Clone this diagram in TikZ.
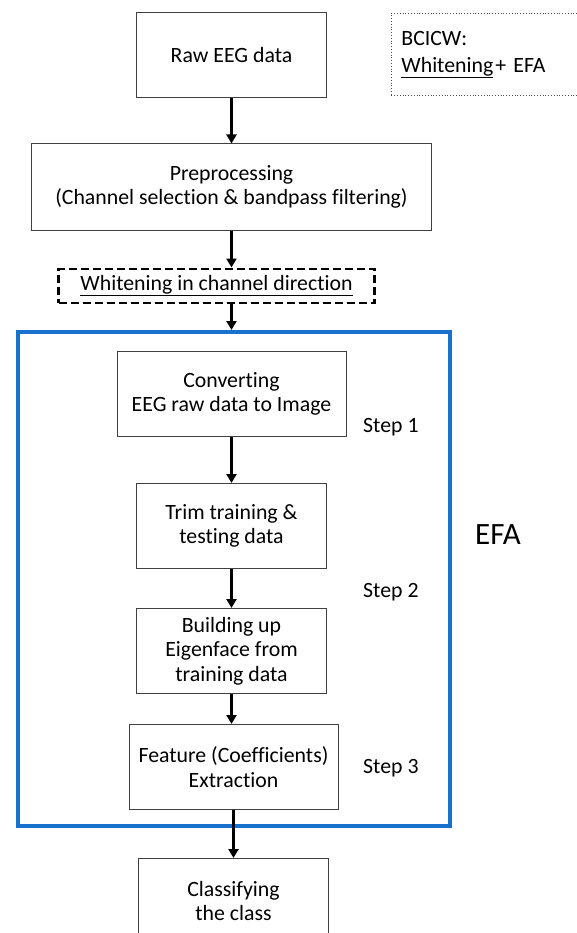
\documentclass[tikz,border=0pt]{standalone}
\usepackage{fontspec}
\setmainfont{Carlito}[Ligatures=NoCommon]
\usepackage{tikz}
\usetikzlibrary{positioning, arrows.meta}
\definecolor{efablue}{RGB}{24,113,204}

\begin{document}
\begin{tikzpicture}[x=1pt, y=-1pt,
	font=\fontsize{21.8}{24.5}\selectfont,
	box/.style={draw=black!75, line width=1pt, align=center, minimum width=190pt, minimum height=85pt, inner sep=0pt},
	flow/.style={line width=2.4pt, -{Triangle[length=9pt, width=10pt]}},
	stepnote/.style={anchor=west, inner sep=0pt}]
	\useasboundingbox (0,0) rectangle (577,933);
	
	\node[box] (raw) at (231.5,55.5) {Raw EEG data};
	\node[box, below=45pt of raw, minimum width=400pt, minimum height=86pt] (pre) {Preprocessing\\(Channel selection \& bandpass filtering)};
	\node[box, below=37pt of pre, xshift=-15pt, minimum width=316pt, minimum height=34pt, draw=black, line width=2.2pt, dash pattern=on 8pt off 4pt] (white) {\underline{Whitening in channel direction}};
	\node[draw=efablue, line width=4pt, minimum width=432pt, minimum height=494pt] (efa) at (234,579) {};
	
	\node[box, below=21pt of efa.north, xshift=-2.5pt, minimum width=229pt] (conv) {Converting\\EEG raw data to Image};
	\node[box, below=46pt of conv] (trim) {Trim training \&\\testing data};
	\node[box, below=39pt of trim] (build) {Building up\\Eigenface from\\training data};
	\node[box, below=30pt of build, xshift=2pt, minimum width=209pt] (feat) {Feature (Coefficients)\\Extraction};
	\node[box, below=48pt of feat] (class) {Classifying\\the class};
	
	\node[stepnote] (step1) at (363,427) {Step 1};
	\node[stepnote] (step2) at (363,592) {Step 2};
	\node[stepnote] (step3) at (363,768) {Step 3};
	\node[stepnote, font=\fontsize{31}{36}\selectfont] (efalabel) at (475,535) {EFA};
	
	\node[draw=black!70, dotted, line width=0.8pt, anchor=north west, minimum width=210pt, minimum height=82pt, text width=190pt, inner sep=10pt, align=left, font=\fontsize{21.8}{27}\selectfont] (bcicw) at (391,13) {BCICW:\\\underline{Whitening}\kern2pt+ EFA};
	
	\draw[flow] (raw.south) -- (raw.south |- pre.north);
	\draw[flow] (pre.south) -- (pre.south |- white.north);
	\draw[flow] (pre.south |- white.south) -- (pre.south |- efa.north);
	\draw[flow] (conv.south) -- (conv.south |- trim.north);
	\draw[flow] (trim.south) -- (trim.south |- build.north);
	\draw[flow] (build.south) -- (build.south |- feat.north);
	\draw[flow] (feat.south) -- (feat.south |- class.north);
\end{tikzpicture}
\end{document}
